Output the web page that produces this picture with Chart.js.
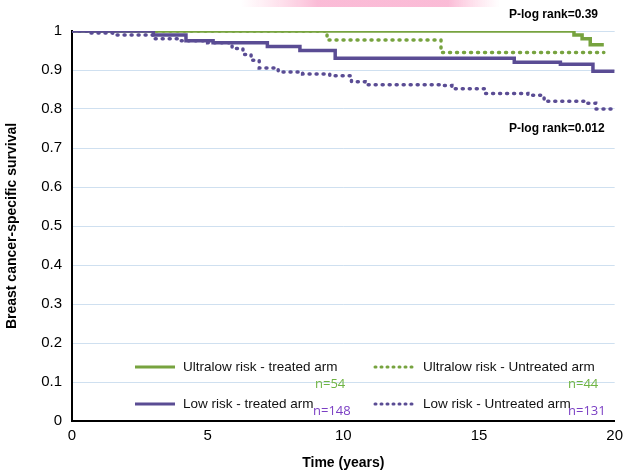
<!DOCTYPE html>
<html>
<head>
<meta charset="UTF-8">
<style>
  body { margin: 0; background: #fff; }
  #wrap { width: 629px; height: 476px; position: relative; }
</style>
</head>
<body>
<div id="wrap"><canvas id="km"></canvas></div>
<script src="https://cdn.jsdelivr.net/npm/chart.js"></script>
<script>
// Kaplan-Meier step data, [time, survival]
const ultralowTreatedT = [0, 18.5, 18.8, 19.1, 19.6];
const ultralowTreatedS = [1, 0.99, 0.98, 0.965, 0.965];
const ultralowUntreatedT = [0, 9.4, 13.6, 19.6];
const ultralowUntreatedS = [1, 0.977, 0.945, 0.945];
const lowTreatedT = [0, 3.0, 4.2, 5.2, 7.2, 8.4, 9.7, 16.3, 18.0, 19.2, 20];
const lowTreatedS = [1, 0.99, 0.975, 0.97, 0.96, 0.95, 0.93, 0.92, 0.915, 0.897, 0.897];
const lowUntreatedT = [0, 0.6, 1.5, 3.0, 3.9, 5.0, 5.9, 6.3, 6.6, 6.9, 7.6, 8.5, 9.5, 10.3, 10.8, 13.6, 14.0, 15.2, 16.8, 17.4, 19.0, 19.3, 19.9];
const lowUntreatedS = [1, 0.995, 0.99, 0.98, 0.975, 0.97, 0.955, 0.94, 0.925, 0.905, 0.895, 0.89, 0.885, 0.87, 0.862, 0.86, 0.852, 0.84, 0.835, 0.82, 0.815, 0.8, 0.8];

const GREEN = '#77a33f';
const PURPLE = '#5a4c94';

function pts(t, s) { return t.map((x, i) => ({ x: x, y: s[i] })); }

// legend, p-values and n labels drawn on top
const overlay = {
  id: 'overlay',
  afterDraw(chart) {
    const c = chart.ctx;
    c.save();
    // pink band at top
    const g = c.createLinearGradient(240, 0, 500, 0);
    g.addColorStop(0, 'rgba(255,200,220,0)');
    g.addColorStop(0.3, 'rgba(250,180,210,0.9)');
    g.addColorStop(0.8, 'rgba(250,180,210,0.9)');
    g.addColorStop(1, 'rgba(255,200,220,0)');
    c.fillStyle = g;
    c.fillRect(240, 0, 260, 7);

    c.font = 'bold 12px Arial, "Liberation Sans", sans-serif';
    c.fillStyle = '#000';
    c.textAlign = 'left';
    c.textBaseline = 'middle';
    c.fillText('P-log rank=0.39', 509, 15);
    c.fillText('P-log rank=0.012', 509, 129);

    const items = [
      { x: 135, y: 367, col: GREEN, dash: [], label: 'Ultralow risk - treated arm', n: 'n=54', nx: 315, ny: 384, ncol: '#6fb443' },
      { x: 375, y: 367, col: GREEN, dash: [1, 5], label: 'Ultralow risk - Untreated arm', n: 'n=44', nx: 568, ny: 384, ncol: '#6fb443' },
      { x: 135, y: 404, col: PURPLE, dash: [], label: 'Low risk - treated arm', n: 'n=148', nx: 313, ny: 411, ncol: '#7b3fc4' },
      { x: 375, y: 404, col: PURPLE, dash: [1, 5], label: 'Low risk - Untreated arm', n: 'n=131', nx: 568, ny: 411, ncol: '#7b3fc4' }
    ];
    items.forEach(it => {
      c.beginPath();
      c.strokeStyle = it.col;
      c.lineWidth = 3;
      c.lineCap = it.dash.length ? 'round' : 'butt';
      c.setLineDash(it.dash);
      c.moveTo(it.x, it.y);
      c.lineTo(it.x + 40, it.y);
      c.stroke();
      c.setLineDash([]);
      c.font = '13.5px Arial, "Liberation Sans", sans-serif';
      c.fillStyle = '#111';
      c.fillText(it.label, it.x + 48, it.y);
      c.font = '13px "Open Sans", "DejaVu Sans", sans-serif';
      c.fillStyle = it.ncol;
      c.fillText(it.n, it.nx, it.ny);
    });
    c.restore();
  }
};

function series(t, s, col, dotted) {
  return {
    data: pts(t, s),
    borderColor: col,
    borderWidth: 3.5,
    borderDash: dotted ? [1, 6] : [],
    borderCapStyle: dotted ? 'round' : 'butt',
    stepped: 'before',
    pointRadius: 0,
    fill: false
  };
}

new Chart(document.getElementById('km'), {
  type: 'line',
  data: {
    datasets: [
      series(lowUntreatedT, lowUntreatedS, PURPLE, true),
      series(lowTreatedT, lowTreatedS, PURPLE, false),
      series(ultralowUntreatedT, ultralowUntreatedS, GREEN, true),
      series(ultralowTreatedT, ultralowTreatedS, GREEN, false)
    ]
  },
  options: {
    responsive: true,
    maintainAspectRatio: false,
    animation: false,
    layout: { padding: { left: 0, right: -7, top: 31, bottom: 0 } },
    plugins: { legend: { display: false }, tooltip: { enabled: false } },
    scales: {
      x: {
        type: 'linear', min: 0, max: 20,
        ticks: { stepSize: 5, color: '#000', font: { size: 15, family: 'Arial' }, padding: 6 },
        grid: { display: false, drawTicks: false },
        border: { color: '#000', width: 2 },
        title: { display: true, text: 'Time (years)', color: '#000', font: { size: 14, weight: 'bold', family: 'Arial' }, padding: { top: 5 } },
        afterFit(s) { s.height = 55; }
      },
      y: {
        min: 0, max: 1,
        ticks: { stepSize: 0.1, color: '#000', font: { size: 15, family: 'Arial' }, padding: 10,
          callback: v => (Math.round(v * 10) / 10).toString() },
        grid: { color: '#cfe0f0', lineWidth: 1, drawTicks: false },
        border: { color: '#000', width: 2 },
        title: { display: true, text: 'Breast cancer-specific survival', color: '#000', font: { size: 14, weight: 'bold', family: 'Arial' }, padding: { bottom: 2 } },
        afterFit(s) { s.width = 72; }
      }
    }
  },
  plugins: [overlay]
});
</script>
</body>
</html>
